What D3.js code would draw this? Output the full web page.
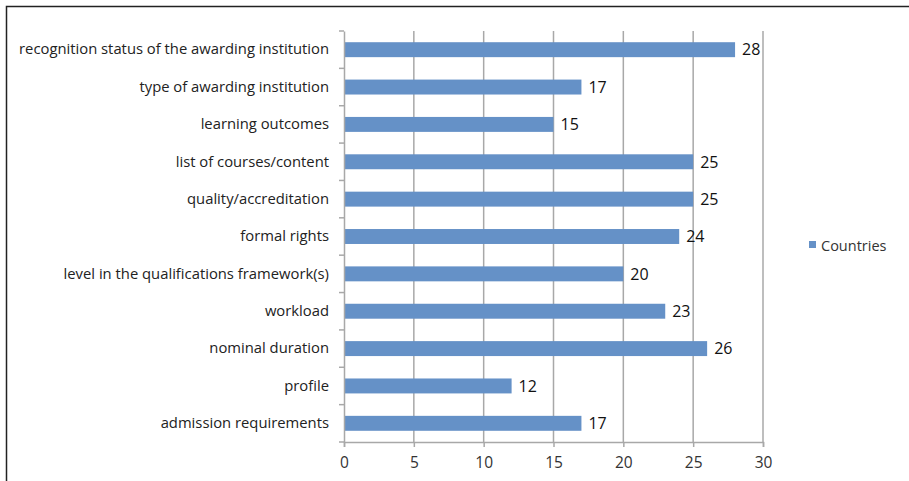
<!DOCTYPE html>
<html><head><meta charset="utf-8">
<script src="https://cdn.jsdelivr.net/npm/d3@7"></script>
<style>
html,body{margin:0;padding:0;background:#fff;}
svg{display:block;}
</style></head>
<body>
<svg id="chart" width="909" height="481"></svg>
<script>
const categories = [
  "recognition status of the awarding institution",
  "type of awarding institution",
  "learning outcomes",
  "list of courses/content",
  "quality/accreditation",
  "formal rights",
  "level in the qualifications framework(s)",
  "workload",
  "nominal duration",
  "profile",
  "admission requirements"
];
const values = [28, 17, 15, 25, 25, 24, 20, 23, 26, 12, 17];
const xTicks = [0, 5, 10, 15, 20, 25, 30];
const seriesName = "Countries";

const svg = d3.select("#chart");
const font = "'Open Sans', 'Liberation Sans', sans-serif";
const margin = {left: 344, right: 146, top: 31, bottom: 39};
const W = 909, H = 481;

// frame
svg.append("path").attr("d", `M6.5,${H} V6.5 H${W}`).attr("fill","none").attr("stroke","#222").attr("stroke-width",1.5);

const x = d3.scaleLinear().domain([0, 30]).range([margin.left, W - margin.right]);
const y = d3.scaleBand().domain(categories).range([margin.top, H - margin.bottom]).paddingInner(0.6).paddingOuter(0.3);
const yb = d3.scaleBand().domain(categories).range([margin.top, H - margin.bottom]);
const grey = "#a8a8a8";

// gridlines
svg.append("g").selectAll("line").data(xTicks.slice(1)).join("line")
  .attr("x1", d => x(d)).attr("x2", d => x(d))
  .attr("y1", margin.top).attr("y2", H - margin.bottom)
  .attr("stroke", grey).attr("stroke-width", 1.5);

// bars
svg.append("g").selectAll("rect").data(values).join("rect")
  .attr("x", x(0)).attr("y", (d,i) => y(categories[i]))
  .attr("width", d => x(d) - x(0)).attr("height", y.bandwidth())
  .attr("fill", "#6591c7");

// value labels
svg.append("g").selectAll("text").data(values).join("text")
  .attr("x", d => x(d) + 7).attr("y", (d,i) => y(categories[i]) + y.bandwidth()/2)
  .attr("dy", "0.36em").attr("font-family", font).attr("font-size", 16).attr("fill", "#111")
  .text(d => d);

// x axis
const xAxis = d3.axisBottom(x).tickValues(xTicks).tickSize(5).tickPadding(10);
const gx = svg.append("g").attr("transform", `translate(0,${H - margin.bottom})`).call(xAxis);
gx.select(".domain").attr("stroke", grey).attr("stroke-width", 1.5);
gx.selectAll(".tick line").attr("stroke", grey).attr("stroke-width", 1.5);
gx.selectAll("text").attr("font-family", font).attr("font-size", 15.5).attr("fill", "#333");

// y axis
const yAxis = d3.axisLeft(yb).tickSize(0).tickPadding(15);
const gy = svg.append("g").attr("transform", `translate(${margin.left},0)`).call(yAxis);
gy.select(".domain").attr("stroke", grey).attr("stroke-width", 1.5);
gy.selectAll("text").attr("font-family", font).attr("font-size", 14.8).attr("fill", "#222");
// category boundary ticks
svg.append("g").selectAll("line").data(d3.range(categories.length + 1)).join("line")
  .attr("x1", margin.left - 5).attr("x2", margin.left)
  .attr("y1", i => margin.top + i * yb.step()).attr("y2", i => margin.top + i * yb.step())
  .attr("stroke", grey).attr("stroke-width", 1.5);

// legend
const lg = svg.append("g");
lg.append("rect").attr("x", 809).attr("y", 241).attr("width", 7).attr("height", 7).attr("fill", "#6591c7");
lg.append("text").attr("x", 821).attr("y", 246).attr("dy", "0.35em")
  .attr("font-family", font).attr("font-size", 14.5).attr("fill", "#333").text(seriesName);
</script>
</body></html>
